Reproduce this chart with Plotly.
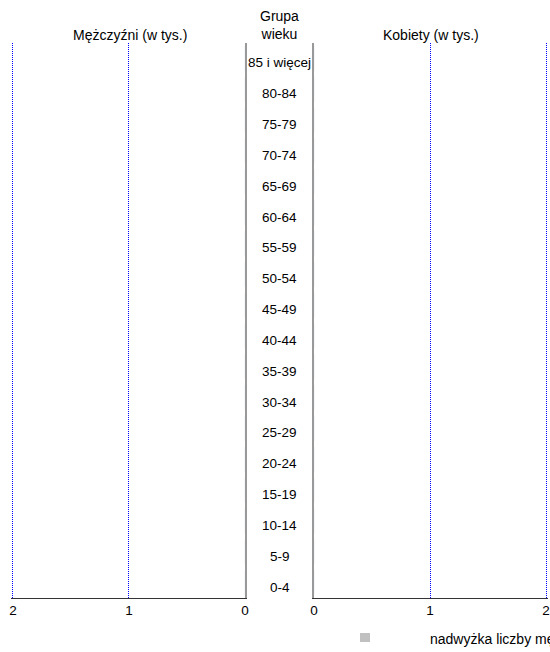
import plotly.graph_objects as go

age_groups = ["0-4", "5-9", "10-14", "15-19", "20-24", "25-29", "30-34", "35-39",
              "40-44", "45-49", "50-54", "55-59", "60-64", "65-69", "70-74",
              "75-79", "80-84", "85 i więcej"]
men = [0, 0, 0, 0, 0, 0, 0, 0, 0, 0, 0, 0, 0, 0, 0, 0, 0, 0]
women = [0, 0, 0, 0, 0, 0, 0, 0, 0, 0, 0, 0, 0, 0, 0, 0, 0, 0]
tick_vals = [0, 1, 2]
tick_text = ["0", "1", "2"]
legend_name = "nadwyżka liczby mężczyzn"

FONT = "Liberation Sans, Arial, sans-serif"
W, H = 550, 652
L, R, T, B = 11, 2, 43, 54
PW = W - L - R
PH = H - T - B


def px(x):
    return (x - L) / PW


def py(y):
    return (H - B - y) / PH


fig = go.Figure()
fig.add_trace(go.Bar(y=age_groups, x=men, orientation="h", xaxis="x", yaxis="y",
                     marker_color="#c0c0c0", name=legend_name, showlegend=False))
fig.add_trace(go.Bar(y=age_groups, x=women, orientation="h", xaxis="x2", yaxis="y2",
                     marker_color="#c0c0c0", name=legend_name, showlegend=False))

for g in age_groups:
    fig.add_annotation(x=px(279.5), xref="paper", y=g, yref="y", text=g, showarrow=False,
                       font=dict(size=13.5, color="#000", family=FONT),
                       xanchor="center", yanchor="middle", yshift=-4.5)

common_x = dict(tickmode="array", tickvals=tick_vals, ticktext=tick_text,
                showgrid=True, gridcolor="#0000ff", griddash="1px,1px", gridwidth=1,
                zeroline=False, showline=True, linecolor="#333", linewidth=1,
                ticks="", tickfont=dict(size=13.5, color="#000", family=FONT))
fig.update_layout(
    width=W, height=H,
    margin=dict(l=L, r=R, t=T, b=B, autoexpand=False),
    paper_bgcolor="white", plot_bgcolor="white",
    font=dict(family=FONT, size=14, color="#000"),
    bargap=0.2,
    showlegend=False,
    xaxis=dict(domain=[0, px(245)], range=[2.017, 0], anchor="y", **common_x),
    xaxis2=dict(domain=[px(314), 1], range=[0, 2.017], anchor="y2", **common_x),
    yaxis=dict(categoryorder="array", categoryarray=age_groups, showticklabels=False,
               showgrid=False, zeroline=False, showline=True, linecolor="#999",
               linewidth=2, side="right", anchor="x"),
    yaxis2=dict(categoryorder="array", categoryarray=age_groups, showticklabels=False,
                showgrid=False, zeroline=False, showline=True, linecolor="#999",
                linewidth=2, side="left", anchor="x2", matches="y"),
)

fig.add_annotation(x=px(130), xref="paper", y=py(35), yref="paper", xanchor="center",
                   yanchor="middle", text="Mężczyźni (w tys.)", showarrow=False,
                   font=dict(size=14))
fig.add_annotation(x=px(431), xref="paper", y=py(35), yref="paper", xanchor="center",
                   yanchor="middle", text="Kobiety (w tys.)", showarrow=False,
                   font=dict(size=14))
fig.add_annotation(x=px(279.5), xref="paper", y=py(25), yref="paper", xanchor="center",
                   yanchor="middle", text="Grupa<br>wieku", showarrow=False,
                   font=dict(size=14))

# legend (drawn manually, runs off the right edge as in the original)
fig.add_shape(type="rect", xref="paper", yref="paper",
              x0=px(360), x1=px(370), y0=py(642), y1=py(633),
              fillcolor="#c0c0c0", line_width=0)
fig.add_annotation(x=px(428), xref="paper", y=py(639), yref="paper", xanchor="left",
                   yanchor="middle", text=legend_name, showarrow=False,
                   font=dict(size=14))

fig.write_html("out.html", config={"displayModeBar": False},
               post_script="document.body.style.margin='0';")
